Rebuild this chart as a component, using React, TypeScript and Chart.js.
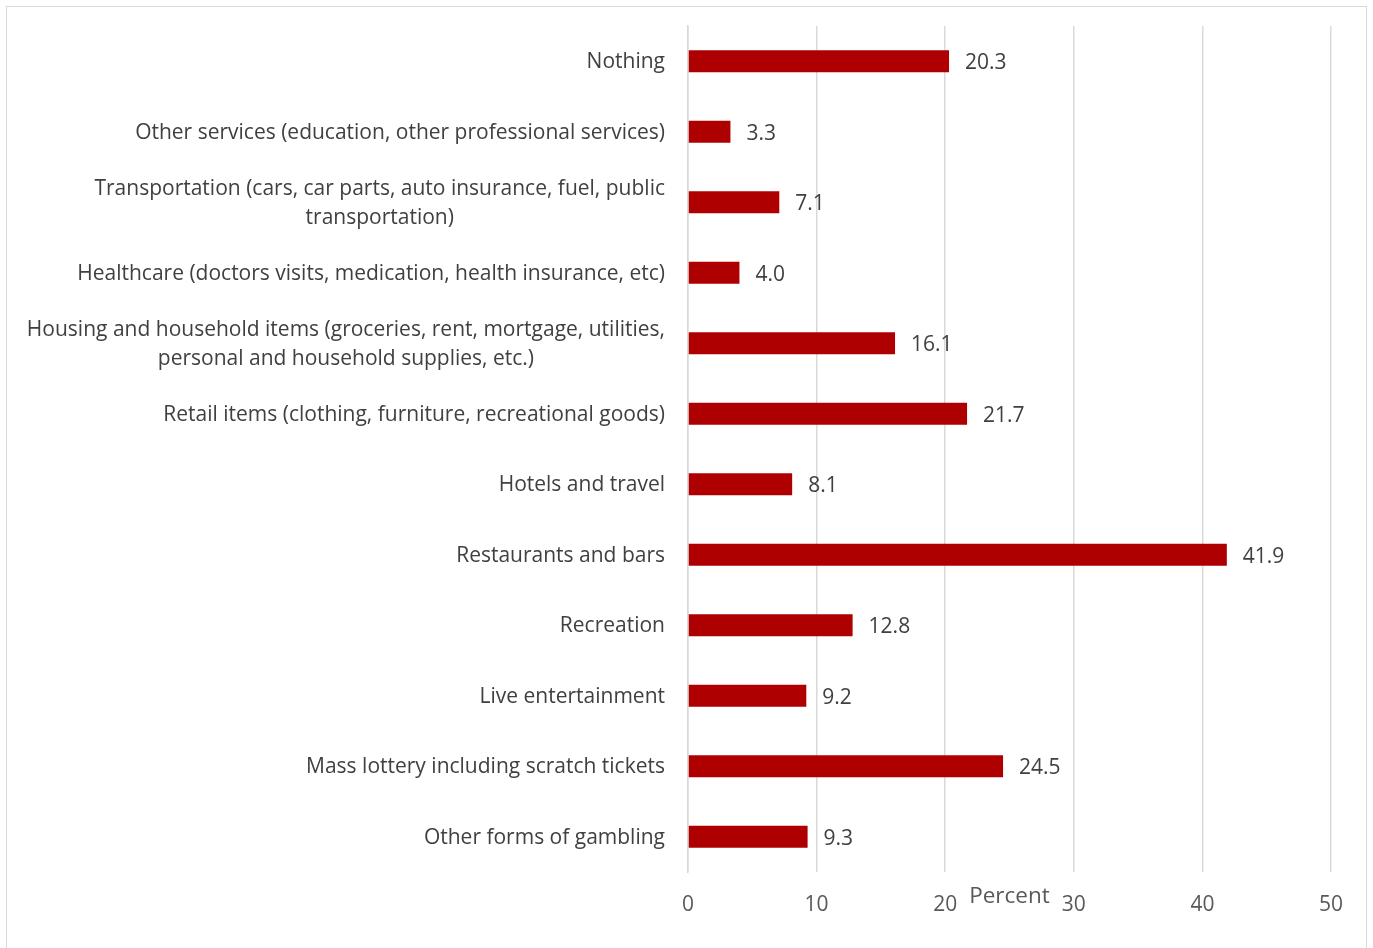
import React, { useEffect, useRef } from "react";
import { Chart, registerables } from "chart.js";

Chart.register(...registerables);

const categories: (string | string[])[] = [
  "Nothing",
  "Other services (education, other professional services)",
  ["Transportation (cars, car parts, auto insurance, fuel, public", "transportation)"],
  "Healthcare (doctors visits, medication, health insurance, etc)",
  ["Housing and household items (groceries, rent, mortgage, utilities,", "personal and household supplies, etc.)"],
  "Retail items (clothing, furniture, recreational goods)",
  "Hotels and travel",
  "Restaurants and bars",
  "Recreation",
  "Live entertainment",
  "Mass lottery including scratch tickets",
  "Other forms of gambling",
];

const percentValues: number[] = [20.3, 3.3, 7.1, 4.0, 16.1, 21.7, 8.1, 41.9, 12.8, 9.2, 24.5, 9.3];

const xTicks: number[] = [0, 10, 20, 30, 40, 50];

const axisTitle = "Percent";

const FONT = "'Open Sans', 'Noto Sans', sans-serif";
const CAT_SIZE = 21;
const NUM_SIZE = 21;
const LINE_GAP = 29;

export default function App() {
  const ref = useRef<HTMLCanvasElement | null>(null);

  useEffect(() => {
    if (!ref.current) return;

    const labelPlugin = {
      id: "customLabels",
      afterDraw(chart: any) {
        const ctx = chart.ctx;
        const meta = chart.getDatasetMeta(0);
        const yScale = chart.scales.y;
        const area = chart.chartArea;
        ctx.save();
        // category labels (right-aligned block, multi-line lines centered)
        ctx.font = `${CAT_SIZE}px ${FONT}`;
        ctx.fillStyle = "#404040";
        ctx.textBaseline = "middle";
        const rightX = area.left - 23;
        categories.forEach((lab, i) => {
          const y = yScale.getPixelForValue(i) + 1;
          if (Array.isArray(lab)) {
            const widest = Math.max(...lab.map((l) => ctx.measureText(l).width));
            const cx = rightX - widest / 2;
            ctx.textAlign = "center";
            const start = y - ((lab.length - 1) * LINE_GAP) / 2;
            lab.forEach((l, k) => ctx.fillText(l, cx, start + k * LINE_GAP));
          } else {
            ctx.textAlign = "right";
            ctx.fillText(lab, rightX, y);
          }
        });
        // value labels
        ctx.font = `${NUM_SIZE}px ${FONT}`;
        ctx.textAlign = "left";
        meta.data.forEach((bar: any, i: number) => {
          ctx.fillText(percentValues[i].toFixed(1), bar.x + 16, bar.y + 2);
        });
        // axis title
        ctx.fillStyle = "#595959";
        ctx.textAlign = "center";
        ctx.font = `22.5px ${FONT}`;
        ctx.fillText(axisTitle, (area.left + area.right) / 2, area.bottom + 25);
        ctx.restore();
      },
    };

    const chart = new Chart(ref.current, {
      type: "bar",
      data: {
        labels: categories.map((c) => (Array.isArray(c) ? c.join(" ") : c)),
        datasets: [
          {
            data: percentValues,
            backgroundColor: "#AE0000",
            borderWidth: 0,
            barPercentage: 0.31,
            categoryPercentage: 1,
          },
        ],
      },
      options: {
        indexAxis: "y",
        animation: false,
        responsive: false,
        maintainAspectRatio: false,
        layout: { padding: { top: 26, right: 42, bottom: 0, left: 0 } },
        plugins: {
          legend: { display: false },
          tooltip: { enabled: false },
          title: { display: false },
        },
        scales: {
          x: {
            type: "linear",
            min: 0,
            max: 50,
            afterBuildTicks: (scale: any) => {
              scale.ticks = xTicks.map((v) => ({ value: v }));
            },
            afterFit: (scale: any) => {
              scale.height = 76;
            },
            grid: { color: "#d9d9d9", lineWidth: 1.5, drawTicks: false },
            border: { display: false },
            ticks: {
              color: "#595959",
              padding: 20,
              font: { family: FONT, size: NUM_SIZE },
            },
          },
          y: {
            afterFit: (scale: any) => {
              scale.width = 688;
            },
            grid: { display: false, drawTicks: false },
            border: { display: true, color: "#d9d9d9", width: 1.5 },
            ticks: { display: false },
          },
        },
      },
      plugins: [labelPlugin],
    });

    return () => chart.destroy();
  }, []);

  return (
    <div
      style={{
        position: "absolute",
        left: 0,
        top: 0,
        width: 1373,
        height: 948,
        overflow: "hidden",
        background: "#fff",
      }}
    >
      <div
        style={{
          position: "absolute",
          left: 6,
          top: 6,
          width: 1361,
          height: 980,
          border: "1.5px solid #d9d9d9",
          boxSizing: "border-box",
        }}
      />
      <canvas
        ref={ref}
        width={1373}
        height={948}
        style={{ position: "absolute", left: 0, top: 0, width: 1373, height: 948 }}
      />
    </div>
  );
}
